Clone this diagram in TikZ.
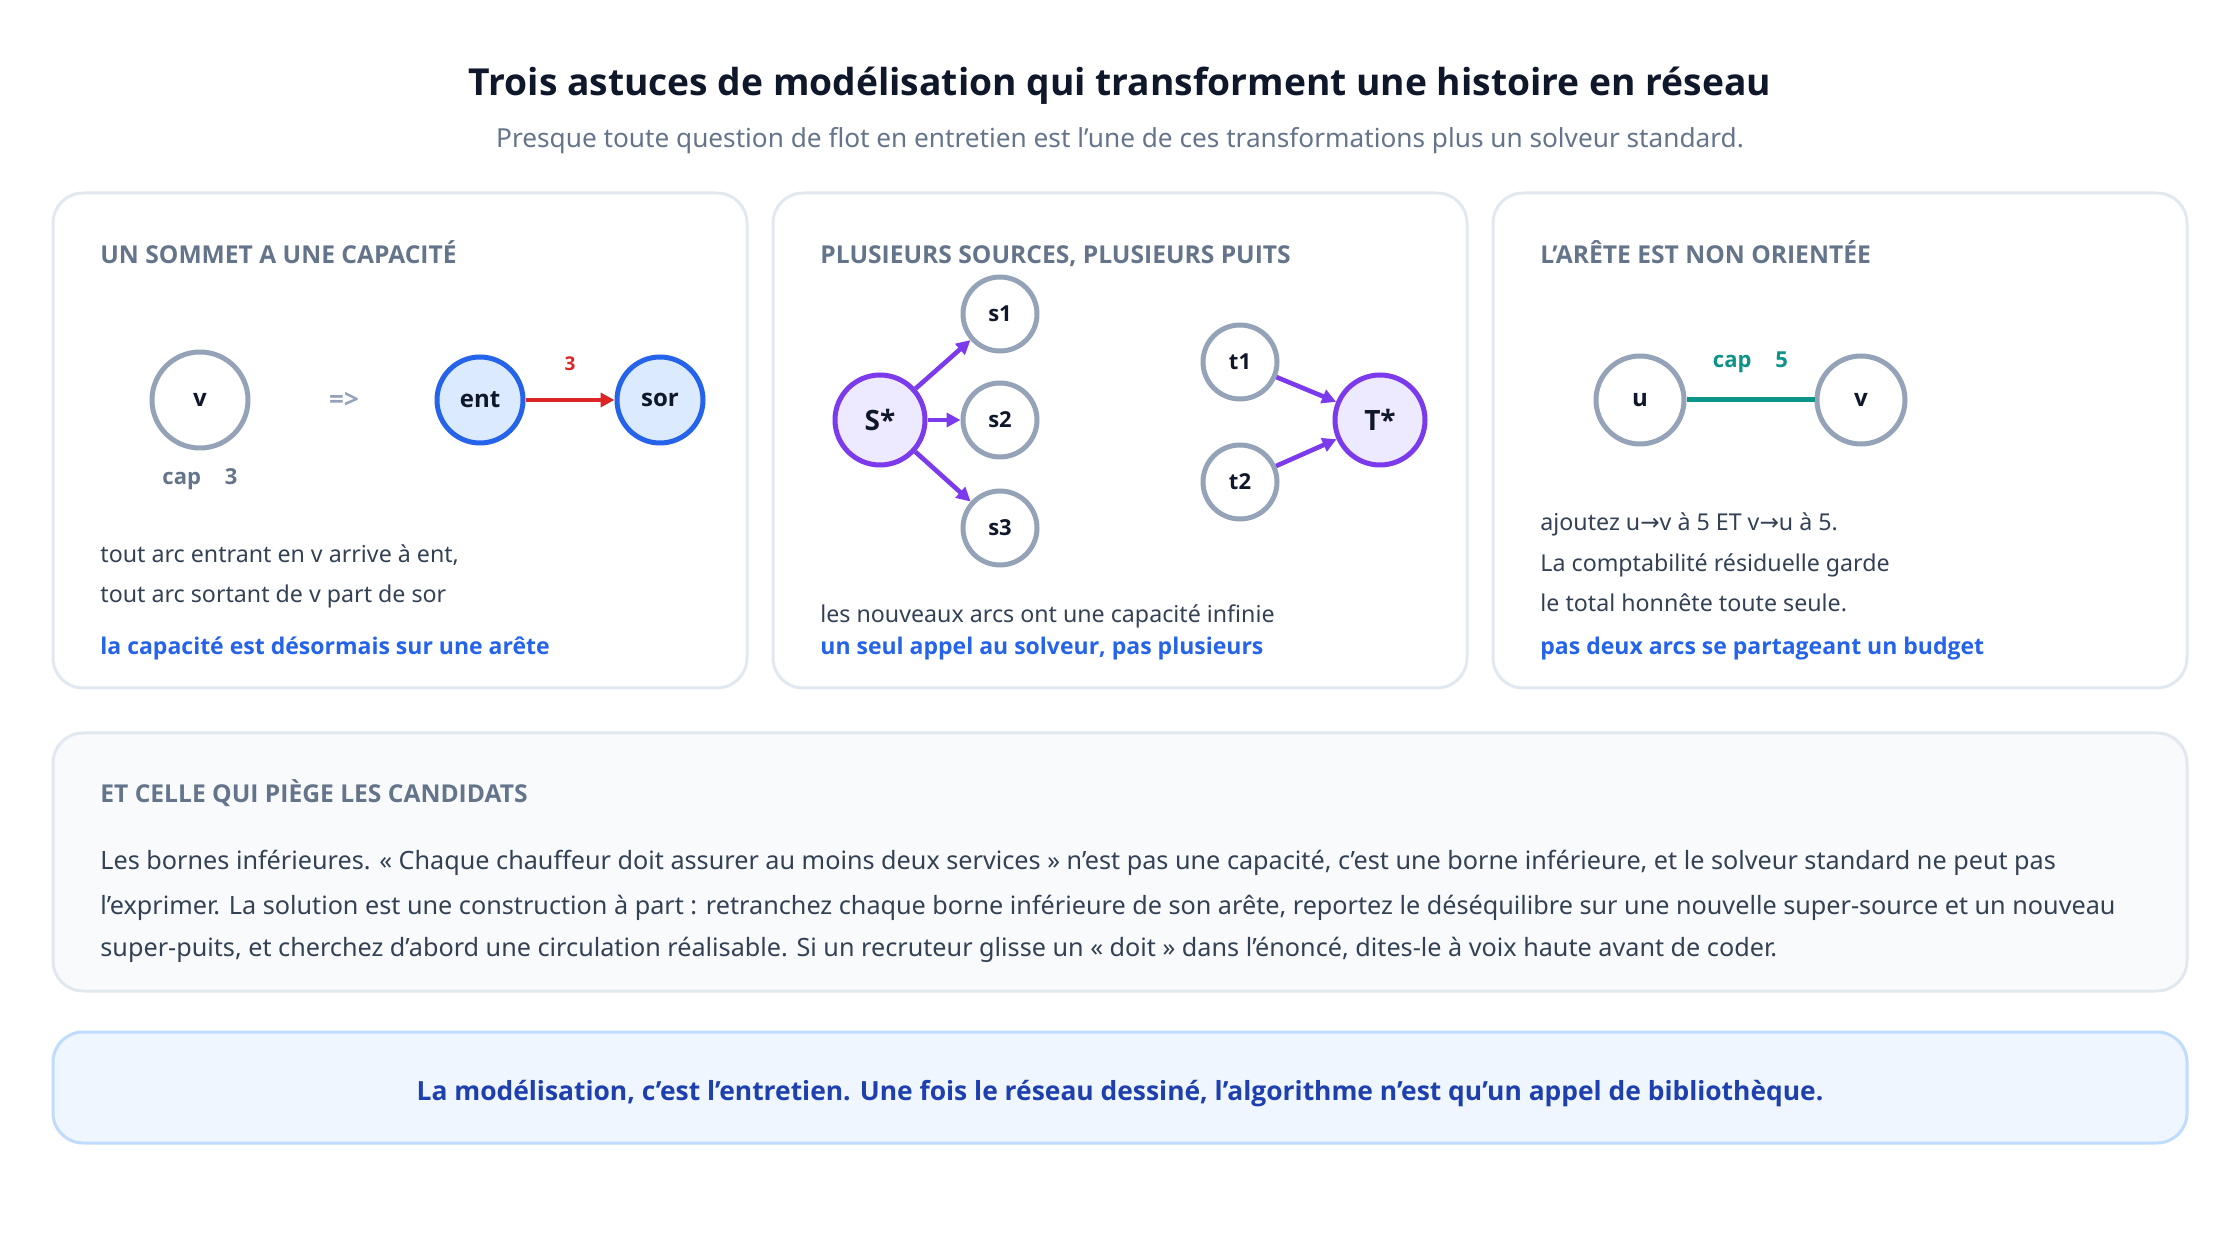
\documentclass[tikz,border=0pt]{standalone}
\usepackage{fontspec}
\setmainfont{Noto Sans}[BoldFont={Open Sans Bold}]
\newfontfamily\arrowfont{DejaVu Sans}
\usetikzlibrary{arrows.meta}
\definecolor{ink}{HTML}{0F172A}
\definecolor{muted}{HTML}{64748B}
\definecolor{bodytext}{HTML}{334155}
\definecolor{cardline}{HTML}{E2E8F0}
\definecolor{nodegray}{HTML}{94A3B8}
\definecolor{accent}{HTML}{2563EB}
\definecolor{accentfill}{HTML}{DBEAFE}
\definecolor{cutred}{HTML}{DC2626}
\definecolor{violet}{HTML}{7C3AED}
\definecolor{violetfill}{HTML}{EDE9FE}
\definecolor{tealline}{HTML}{0D9488}
\definecolor{panelfill}{HTML}{F8FAFC}
\definecolor{bannerfill}{HTML}{EFF6FF}
\definecolor{bannerline}{HTML}{BFDBFE}
\definecolor{bannertext}{HTML}{1E40AF}
\tikzstyle{card} = [draw=cardline, line width=1.5pt, rounded corners=15pt, fill=white]
\tikzstyle{panel} = [card, fill=panelfill]
\tikzstyle{banner} = [card, draw=bannerline, fill=bannerfill]
\tikzstyle{cardhead} = [anchor=base west, inner sep=0pt, text=muted, font=\bfseries\fontsize{12.3}{14}\selectfont]
\tikzstyle{body} = [anchor=base west, inner sep=0pt, text=bodytext, font=\fontsize{11.6}{14}\selectfont]
\tikzstyle{punch} = [body, text=accent, font=\bfseries\fontsize{11.5}{14}\selectfont]
\tikzstyle{para} = [body, font=\fontsize{12.6}{15}\selectfont]
\tikzstyle{vertex} = [circle, draw=nodegray, line width=2.5pt, fill=white, inner sep=0pt,
                      text=ink, font=\bfseries\fontsize{12}{14}\selectfont]
\tikzstyle{half} = [vertex, draw=accent, fill=accentfill, minimum size=43pt]
\tikzstyle{hub} = [vertex, draw=violet, fill=violetfill, minimum size=45pt,
                   font=\bfseries\fontsize{14}{16}\selectfont]
\tikzstyle{leaf} = [vertex, minimum size=37pt, font=\bfseries\fontsize{11}{13}\selectfont]
\tikzstyle{caplabel} = [anchor=base, font=\bfseries\fontsize{11}{13}\selectfont]
\tikzstyle{link} = [line width=2.3pt, -{Triangle[length=7pt,width=7pt]}]

\begin{document}
\begin{tikzpicture}[x=0.5pt, y=-0.5pt]%
  \useasboundingbox (0,0) rectangle (2240,1240);
  \node[anchor=base, text=ink, font=\bfseries\fontsize{18.6}{22}\selectfont] (title) at (1120,96)
    {Trois astuces de modélisation qui transforment une histoire en réseau};
  \node[anchor=base, text=muted, font=\fontsize{13.1}{16}\selectfont] (subtitle) at (1120,148)
    {Presque toute question de flot en entretien est l’une de ces transformations plus un solveur standard.};

  \draw[card] (53,193) rectangle (747,688);
  \draw[card] (773,193) rectangle (1467,688);
  \draw[card] (1493,193) rectangle (2187,688);
  \draw[panel] (53,733) rectangle (2187,991);
  \draw[banner] (53,1032) rectangle (2187,1143);

  % sommet a capacite
  \node[cardhead] (headA) at (100,264) {UN SOMMET A UNE CAPACITÉ};
  \node[vertex, minimum size=48pt] (v) at (200,400) {v};
  \node[caplabel, text=muted] (capv) at (200,485) {cap\hspace{12pt}3};
  \node[text=nodegray, font=\bfseries\fontsize{13}{15}\selectfont] (becomes) at (344,400) {=>};
  \node[half] (ent) at (480,400) {ent};
  \node[half] (sor) at (660,400) {sor};
  \draw[link, draw=cutred, fill=cutred] (ent) -- node[above=10pt, text=cutred,
    font=\bfseries\fontsize{9.5}{11}\selectfont] (capent) {3} (sor);
  \node[body] (inA) at (100,563) {tout arc entrant en v arrive à ent,};
  \node[body] (outA) at (100,603) {tout arc sortant de v part de sor};
  \node[punch] (punchA) at (100,655) {la capacité est désormais sur une arête};

  % plusieurs sources, plusieurs puits
  \node[cardhead] (headB) at (820,264) {PLUSIEURS SOURCES, PLUSIEURS PUITS};
  \node[hub] (S) at (880,420) {S*};
  \node[leaf] (s1) at (1000,314) {s1};
  \node[leaf] (s2) at (1000,420) {s2};
  \node[leaf] (s3) at (1000,528) {s3};
  \node[leaf] (t1) at (1240,362) {t1};
  \node[leaf] (t2) at (1240,482) {t2};
  \node[hub] (T) at (1380,420) {T*};
  \foreach \leaf in {s1,s2,s3}
    \draw[link, draw=violet, fill=violet] (S) -- (\leaf);
  \foreach \leaf in {t1,t2}
    \draw[link, draw=violet, fill=violet] (\leaf) -- (T);
  \node[body] (infB) at (820,623) {les nouveaux arcs ont une capacité infinie};
  \node[punch] (punchB) at (820,655) {un seul appel au solveur, pas plusieurs};

  % arete non orientee
  \node[cardhead] (headC) at (1540,264) {L’ARÊTE EST NON ORIENTÉE};
  \node[vertex, minimum size=44pt] (u) at (1640,400) {u};
  \node[vertex, minimum size=44pt] (w) at (1861,400) {v};
  \draw[draw=tealline, line width=2.5pt] (u) -- node[caplabel, above=9pt, text=tealline] (capuw)
    {cap\hspace{12pt}5} (w);
  \node[body] (addC) at (1540,531) {ajoutez u{\arrowfont →}v à 5 ET v{\arrowfont →}u à 5.};
  \node[body] (resC) at (1540,572) {La comptabilité résiduelle garde};
  \node[body] (totC) at (1540,612) {le total honnête toute seule.};
  \node[punch] (punchC) at (1540,655) {pas deux arcs se partageant un budget};

  % le piege
  \node[cardhead] (headD) at (100,803) {ET CELLE QUI PIÈGE LES CANDIDATS};
  \node[para] (par1) at (100,870) {Les bornes inférieures. « Chaque chauffeur doit assurer au moins deux services » n’est pas une capacité, c’est une borne inférieure, et le solveur standard ne peut pas};
  \node[para] (par2) at (100,914) {l’exprimer. La solution est une construction à part : retranchez chaque borne inférieure de son arête, reportez le déséquilibre sur une nouvelle super-source et un nouveau};
  \node[para] (par3) at (100,957) {super-puits, et cherchez d’abord une circulation réalisable. Si un recruteur glisse un « doit » dans l’énoncé, dites-le à voix haute avant de coder.};

  \node[anchor=base, text=bannertext, font=\bfseries\fontsize{13.2}{16}\selectfont] (moral) at (1120,1100)
    {La modélisation, c’est l’entretien. Une fois le réseau dessiné, l’algorithme n’est qu’un appel de bibliothèque.};
\end{tikzpicture}
\end{document}
